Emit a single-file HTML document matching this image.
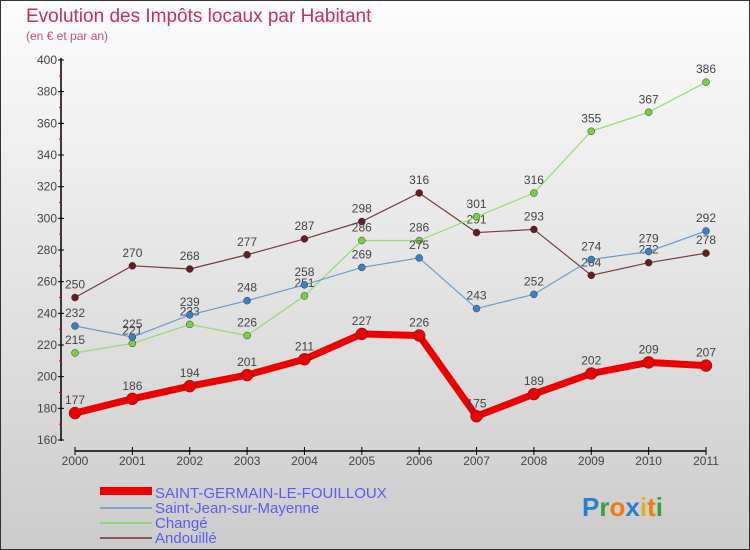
<!DOCTYPE html>
<html><head><meta charset="utf-8"><style>
body{margin:0}
#c{width:748px;height:548px;border:1px solid #333;background:linear-gradient(#fcfcfc,#cccccc);position:relative;overflow:hidden;font-family:"Liberation Sans",sans-serif}
</style></head><body>
<div id="c">
<svg width="748" height="548" viewBox="1 1 748 548" style="position:absolute;left:0;top:0">
<text x="26" y="22" font-size="19" fill="#c8305a">Evolution des Impôts locaux par Habitant</text>
<text x="26" y="40" font-size="12" fill="#c8507a">(en € et par an)</text>
<g id="axes"></g><g id="series"></g>
<g id="legend" font-size="15" fill="#5b5bee">
<rect x="100" y="487" width="52" height="8" fill="#e00"/>
<text x="155" y="498">SAINT-GERMAIN-LE-FOUILLOUX</text>
<line x1="100" x2="152" y1="508" y2="508" stroke="#7aa6d0" stroke-width="2"/>
<text x="155" y="513">Saint-Jean-sur-Mayenne</text>
<line x1="100" x2="152" y1="523" y2="523" stroke="#8fd870" stroke-width="2"/>
<text x="155" y="528">Changé</text>
<line x1="100" x2="152" y1="538" y2="538" stroke="#8a5a5a" stroke-width="2"/>
<text x="155" y="543">Andouillé</text>
</g>
<text x="582" y="516" font-size="26" font-weight="bold"><tspan fill="#2a7fd0">P</tspan><tspan fill="#3aa040">r</tspan><tspan fill="#f07a10">o</tspan><tspan fill="#2a7fd0">x</tspan><tspan fill="#e0b020">i</tspan><tspan fill="#f07a10">t</tspan><tspan fill="#3aa040">i</tspan></text>
</svg>
</div>
<script>
const years=[2000,2001,2002,2003,2004,2005,2006,2007,2008,2009,2010,2011];
const yTicks=[160,180,200,220,240,260,280,300,320,340,360,380,400];
const saintGermain=[177,186,194,201,211,227,226,175,189,202,209,207];
const saintJean=[232,225,239,248,258,269,275,243,252,274,279,292];
const change=[215,221,233,226,251,286,286,301,316,355,367,386];
const andouille=[250,270,268,277,287,298,316,291,293,264,272,278];
const NS="http://www.w3.org/2000/svg";
function X(i){return 75+i*(706-75)/11;}
function Y(v){return 440-(v-160)*(380/240);}
function mk(t,a,p){const e=document.createElementNS(NS,t);for(const k in a)e.setAttribute(k,a[k]);p.appendChild(e);return e;}
const ax=document.getElementById('axes');
let l=mk('line',{x1:61,x2:61,y1:58,y2:441,stroke:'#000','stroke-width':1.5},ax);


l=mk('line',{x1:75,x2:706,y1:451,y2:451,stroke:'#000','stroke-width':1.5},ax);


yTicks.forEach(v=>{
 mk('line',{x1:58,x2:64,y1:Y(v),y2:Y(v),stroke:'#000'},ax);
 if(v<400)mk('line',{x1:59,x2:62,y1:Y(v+10),y2:Y(v+10),stroke:'#d00'},ax);
 const t=mk('text',{x:57,y:Y(v)+4,'font-size':12,'text-anchor':'end',fill:'#444'},ax);t.textContent=v;
 
 
});
years.forEach((yr,i)=>{
 mk('line',{x1:X(i),x2:X(i),y1:447,y2:455,stroke:'#000'},ax);
 const t=mk('text',{x:X(i),y:465,'font-size':12,'text-anchor':'middle',fill:'#444'},ax);t.textContent=yr;
 
 
});
const sg=document.getElementById('series');
function draw(data,color,w,r,name,dot){
 const g=mk('g',{},sg);
 
 
 const p=mk('polyline',{points:data.map((v,i)=>X(i)+','+Y(v)).join(' '),fill:'none',stroke:color,'stroke-width':w,'stroke-linejoin':'round'},g);
 
 
 data.forEach((v,i)=>{
  const c=mk('circle',{cx:X(i),cy:Y(v),r:r,fill:dot,stroke:'#333','stroke-width':0.5},g);
  
  
  const t=mk('text',{x:X(i),y:Y(v)-9,'font-size':12,'text-anchor':'middle',fill:'#444'},g);t.textContent=v;
  
  
 });
}
draw(andouille,'#7a3a3a',1.2,3.5,'andouille-series','#6a1a20');
draw(change,'#90dc70',1.2,3.5,'change-series','#7ad040');
draw(saintJean,'#6a9cd0',1.2,3.5,'saint-jean-series','#3a80c8');
draw(saintGermain,'#ee0000',7,6,'saint-germain-series','#ee0000');
</script>
</body></html>
